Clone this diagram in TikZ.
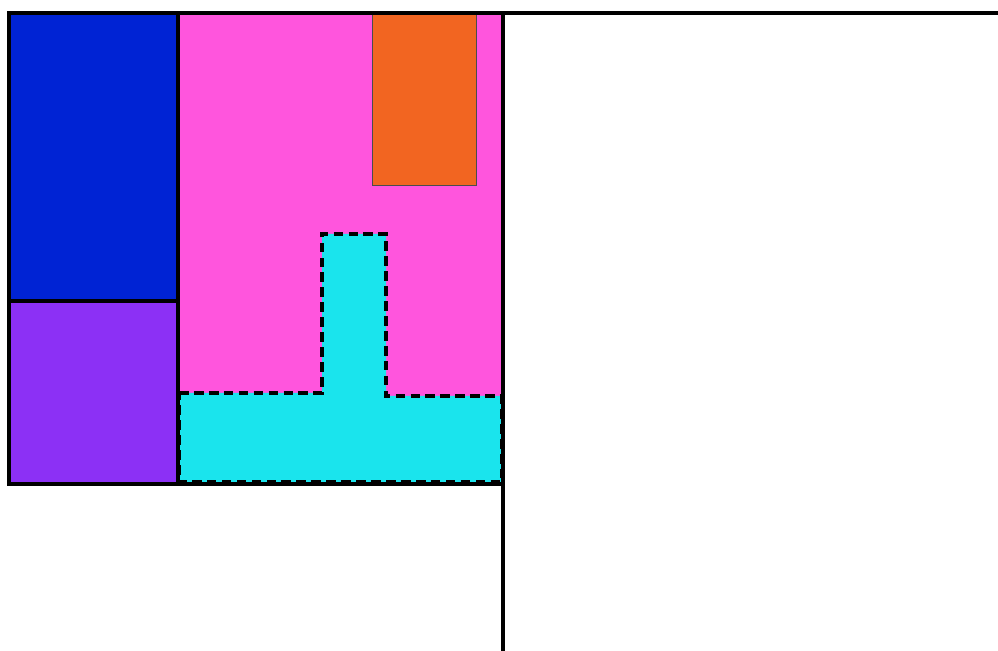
\documentclass[tikz,border=0pt]{standalone}
\usetikzlibrary{positioning}
\definecolor{roomblue}{RGB}{0,35,212}
\definecolor{roompurple}{RGB}{140,48,245}
\definecolor{roompink}{RGB}{255,85,221}
\definecolor{roomorange}{RGB}{242,101,33}
\definecolor{roomcyan}{RGB}{26,228,237}
\tikzset{wall/.style={line width=2.2pt, black}}
\begin{document}
\begin{tikzpicture}[x=0.02cm, y=-0.02cm]
            \useasboundingbox (0, 0) rectangle (998, 651);
            \clip (0, 0) rectangle (998, 651);
            % rooms
            \fill[roomblue] (9, 13) rectangle (178, 301);
            \fill[roompurple] (9, 301) rectangle (178, 484);
            \fill[roompink] (178, 13) rectangle (503, 484);
            \draw[fill=roomorange, draw=black!70, line width=0.5pt] (372, 13) rectangle (476, 185);
            \draw[fill=roomcyan, line width=2pt, dash pattern=on 5.5pt off 3pt]
                (179, 393) -- (322, 393) -- (322, 234) -- (386, 234) -- (386, 396)
                -- (502, 396) -- (502, 482) -- (179, 482) -- cycle;
            % walls
            \draw[wall] (9, 13) rectangle (503, 484);
            \draw[wall] (9, 301) -- (178, 301);
            \draw[wall] (178, 13) -- (178, 484);
            \draw[wall] (503, 13) rectangle (1010, 670);
        \end{tikzpicture}
\end{document}
